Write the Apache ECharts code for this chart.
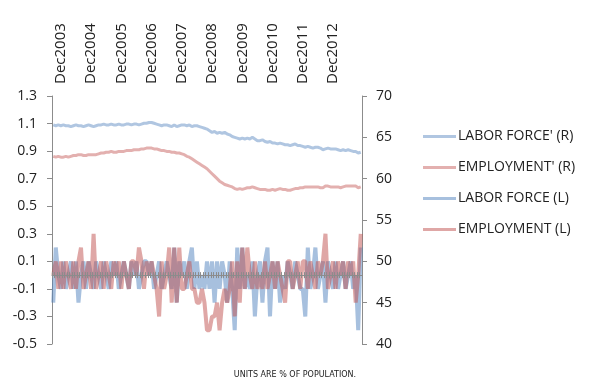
<!DOCTYPE html>
<html><head><meta charset="utf-8">
<script src="https://cdn.jsdelivr.net/npm/echarts@6/dist/echarts.min.js"></script>
<style>html,body{margin:0;padding:0;background:#fff}#c{width:590px;height:390px}</style>
</head><body><div id="c"></div>
<script>
// Monthly categories Sep2003 .. Nov2013
const monthNames = ['Jan','Feb','Mar','Apr','May','Jun','Jul','Aug','Sep','Oct','Nov','Dec'];
const categories = [];
for (let y = 2003, m = 8; !(y === 2013 && m === 11); ) {
  categories.push(monthNames[m] + y);
  m++; if (m === 12) { m = 0; y++; }
}

const leftTicks = { min: -0.5, max: 1.3, interval: 0.2 };
const rightTicks = { min: 40, max: 70, interval: 5 };

// LABOR FORCE' (R)
const laborForcePrime = [
  66.5,66.4,66.5,66.4,
  66.5,66.4,66.4,66.3,66.4,66.5,66.4,66.4,66.3,66.4,66.5,66.4,
  66.3,66.4,66.5,66.5,66.6,66.5,66.5,66.6,66.5,66.5,66.6,66.5,
  66.5,66.6,66.6,66.5,66.6,66.6,66.5,66.6,66.7,66.7,66.8,66.8,
  66.7,66.6,66.5,66.4,66.5,66.5,66.4,66.3,66.5,66.3,66.4,66.5,
  66.5,66.4,66.5,66.3,66.4,66.4,66.3,66.2,66.1,66.0,65.8,65.6,
  65.7,65.5,65.6,65.5,65.6,65.4,65.3,65.1,65.0,64.9,64.8,64.9,
  64.8,64.9,64.8,65.0,64.8,64.6,64.6,64.7,64.5,64.4,64.5,64.3,
  64.3,64.2,64.3,64.2,64.1,64.1,64.0,64.1,64.2,64.0,64.0,63.9,
  63.8,63.9,63.8,63.7,63.8,63.8,63.7,63.5,63.6,63.7,63.6,63.6,
  63.6,63.5,63.4,63.5,63.4,63.5,63.4,63.3,63.3,63.1,63.2
];
// EMPLOYMENT' (R)
const employmentPrime = [
  62.7,62.6,62.7,62.6,
  62.6,62.7,62.6,62.7,62.8,62.8,62.9,62.9,62.8,62.8,62.9,62.9,
  62.9,62.9,63.0,63.1,63.1,63.2,63.2,63.3,63.2,63.2,63.3,63.3,
  63.3,63.4,63.4,63.4,63.5,63.5,63.5,63.6,63.6,63.7,63.7,63.7,
  63.6,63.6,63.5,63.4,63.4,63.3,63.3,63.2,63.2,63.1,63.1,63.0,
  62.9,62.7,62.6,62.4,62.2,62.0,61.8,61.6,61.4,61.2,60.9,60.6,
  60.3,60.0,59.7,59.5,59.3,59.2,59.1,59.0,58.8,58.7,58.8,58.7,
  58.8,58.9,58.9,59.0,58.9,58.8,58.7,58.7,58.7,58.6,58.6,58.7,
  58.6,58.7,58.8,58.7,58.7,58.6,58.6,58.7,58.8,58.8,58.9,58.9,
  59.0,59.0,59.0,59.0,59.0,59.0,58.9,58.9,59.1,59.1,59.0,59.0,
  59.0,59.0,58.9,59.0,59.1,59.1,59.1,59.1,59.1,58.9,59.0
];
// LABOR FORCE (L)
const laborForce = [
  -0.2,0.2,0,-0.1,
  0.1,-0.1,0,0.1,-0.1,0.1,-0.2,0,0.1,-0.1,0.1,0,
  -0.1,0.1,0,-0.1,0.1,0,-0.1,0.1,0,0.1,-0.1,0,
  0.1,0,-0.1,0.1,0,0.1,-0.1,0,0.1,0.1,0,0.1,
  -0.1,0,0.1,-0.1,0,0.1,0,-0.1,0.2,-0.2,0.1,0,
  0.1,-0.1,0.1,0.2,-0.1,0.1,-0.1,0,-0.1,0.1,-0.1,0.1,
  -0.2,0.1,-0.1,0.1,0,-0.2,0.1,-0.1,-0.4,0.2,-0.1,0.2,
  -0.1,0,-0.1,0.1,-0.3,0,0.1,-0.2,0.1,0.2,-0.3,0.1,
  -0.1,0.1,-0.2,0,-0.1,0.1,0,-0.1,0.1,0,-0.1,-0.1,
  -0.3,0.2,-0.1,0,0.2,-0.1,0,0.1,-0.2,0.1,0,-0.1,
  0.1,-0.1,0,0.1,-0.1,0,0.1,-0.1,0,-0.4,0.2
];
// EMPLOYMENT (L)
const employment = [
  0,0.1,-0.1,0.1,
  -0.1,0.1,0,-0.1,0.1,-0.1,0.1,0.2,-0.1,0,0.1,-0.1,
  0.3,-0.1,0,0.1,-0.1,0.1,0,-0.1,0.1,0,0.1,-0.1,
  0.1,0,-0.1,0.1,0.1,0,0.2,0.1,-0.1,0.1,0,0.1,
  0,-0.1,-0.3,0.1,-0.1,0,0.2,-0.2,0.2,-0.2,0.2,-0.1,
  -0.1,0,0.1,-0.1,-0.1,-0.2,-0.2,-0.1,-0.2,-0.4,-0.4,-0.3,
  -0.3,-0.2,-0.4,-0.2,-0.1,-0.2,-0.1,0.1,-0.3,0.1,-0.2,0.2,
  -0.1,0.2,0,-0.1,0.1,-0.1,0,-0.1,0.1,-0.1,0,0.1,
  -0.1,0.1,0,-0.1,-0.2,0.1,0.1,-0.1,0,0.1,-0.1,0.1,
  0.1,-0.1,0.1,0,-0.1,0.1,0,0.1,0.3,-0.1,0,0.1,
  -0.1,0.1,0,0.1,-0.1,0.1,0,0.1,-0.2,0,0.3
];

const BLUE = 'rgba(79,129,189,0.5)';
const RED = 'rgba(192,80,77,0.5)';
const BLUE_T = 'rgba(79,129,189,0.45)';
const RED_T = 'rgba(192,80,77,0.45)';
const AXIS = '#8c8c8c';
const FONT = 'Open Sans';

const chart = echarts.init(document.getElementById('c'), null, { renderer: 'canvas' });
chart.setOption({
  animation: false,
  backgroundColor: '#fff',
  textStyle: { fontFamily: FONT },
  title: {
    text: 'UNITS ARE % OF POPULATION.',
    left: 'center', bottom: 6,
    textStyle: { fontFamily: 'DejaVu Sans', fontSize: 8, fontWeight: 'normal', color: '#222' }
  },
  legend: {
    orient: 'vertical', left: 418, top: 123,
    itemWidth: 33, itemHeight: 3, itemGap: 14,
    icon: 'rect',
    textStyle: { fontFamily: FONT, fontSize: 14, color: '#222', lineHeight: 17, padding: [0,0,0,-3] },
    data: ["LABOR FORCE' (R)", "EMPLOYMENT' (R)", 'LABOR FORCE (L)', 'EMPLOYMENT (L)']
  },
  grid: { left: 52, right: 228, top: 96, bottom: 46, containLabel: false },
  xAxis: [
    {
      type: 'category', data: categories, position: 'top', boundaryGap: true,
      axisLine: { show: false }, axisTick: { show: false }, splitLine: { show: false },
      axisLabel: {
        rotate: 90, margin: 12, fontSize: 15, color: '#222', fontFamily: FONT,
        interval: (i, v) => v.startsWith('Dec')
      }
    },
    {
      type: 'category', data: categories, position: 'bottom', boundaryGap: true, z: 10,
      axisLine: { show: true, onZero: true, onZeroAxisIndex: 0, lineStyle: { color: AXIS, width: 1 } },
      axisTick: { show: true, interval: 0, length: 3, lineStyle: { color: AXIS } },
      axisLabel: { show: false }, splitLine: { show: false }
    },
    {
      type: 'category', data: categories, position: 'bottom', boundaryGap: true, z: 10,
      axisLine: { show: false, onZero: true, onZeroAxisIndex: 0 },
      axisTick: { show: true, inside: true, interval: 0, length: 3, lineStyle: { color: AXIS } },
      axisLabel: { show: false }, splitLine: { show: false }
    }
  ],
  yAxis: [
    {
      type: 'value', position: 'left', min: leftTicks.min, max: leftTicks.max, interval: leftTicks.interval,
      axisLine: { show: true, lineStyle: { color: AXIS } },
      axisTick: { show: true, length: 5, lineStyle: { color: AXIS } },
      splitLine: { show: false },
      axisLabel: { fontSize: 14, color: '#222', margin: 15, fontFamily: FONT,
        formatter: v => v.toFixed(1) }
    },
    {
      type: 'value', position: 'right', min: rightTicks.min, max: rightTicks.max, interval: rightTicks.interval,
      axisLine: { show: true, lineStyle: { color: AXIS } },
      axisTick: { show: true, length: 5, lineStyle: { color: AXIS } },
      splitLine: { show: false },
      axisLabel: { fontSize: 14, color: '#222', margin: 14, fontFamily: FONT }
    }
  ],
  series: [
    { name: 'LABOR FORCE (L)', type: 'line', xAxisIndex: 0, yAxisIndex: 0, data: laborForce,
      showSymbol: false, color: BLUE, lineStyle: { color: BLUE, width: 4 } },
    { name: 'EMPLOYMENT (L)', type: 'line', xAxisIndex: 0, yAxisIndex: 0, data: employment,
      showSymbol: false, color: RED, lineStyle: { color: RED, width: 4 } },
    { name: "LABOR FORCE' (R)", type: 'line', xAxisIndex: 0, yAxisIndex: 1, data: laborForcePrime,
      showSymbol: false, color: BLUE_T, lineStyle: { color: BLUE_T, width: 3 } },
    { name: "EMPLOYMENT' (R)", type: 'line', xAxisIndex: 0, yAxisIndex: 1, data: employmentPrime,
      showSymbol: false, color: RED_T, lineStyle: { color: RED_T, width: 3 } }
  ]
});
</script></body></html>
